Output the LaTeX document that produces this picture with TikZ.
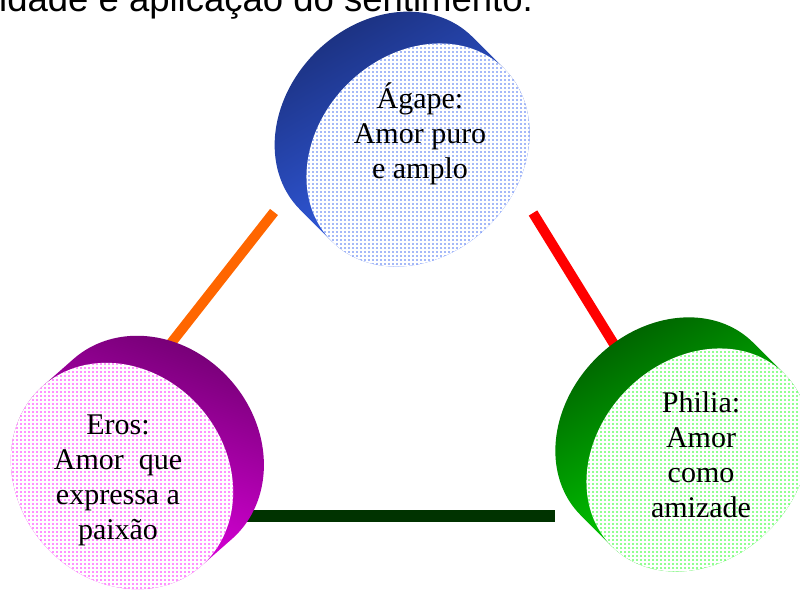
\documentclass[tikz,border=0pt]{standalone}
\usepackage{fontspec}
\setmainfont{Liberation Serif}
\newfontfamily\titlefont{Liberation Sans}
\usetikzlibrary{patterns}
\pgfdeclarepatternformonly{fdots}{\pgfqpoint{-1pt}{-1pt}}{\pgfqpoint{3pt}{3pt}}{\pgfqpoint{4pt}{4pt}}{\pgfpathcircle{\pgfqpoint{1pt}{1pt}}{0.95pt}\pgfusepath{fill}}
\definecolor{agdark}{HTML}{1C3282}
\definecolor{aglight}{HTML}{3868FF}
\definecolor{agdot}{HTML}{4A72F2}
\definecolor{erdark}{HTML}{780078}
\definecolor{erlight}{HTML}{F000F0}
\definecolor{erdot}{HTML}{FF22FF}
\definecolor{phdark}{HTML}{006400}
\definecolor{phlight}{HTML}{00F000}
\definecolor{phdot}{HTML}{22FF22}
\definecolor{lnorange}{HTML}{FF6600}
\definecolor{lnred}{HTML}{FF0000}
\definecolor{lngreen}{HTML}{003300}
\tikzset{
  label text/.style={align=center, font=\fontsize{30}{35}\selectfont, inner sep=0pt},
  bar/.style={line width=10pt},
}
\begin{document}
\begin{tikzpicture}[x=1pt,y=-1pt]
\useasboundingbox (0,0) rectangle (800,589);
\clip (0,0) rectangle (800,589);
% title (cut at top)
\node[anchor=base west, inner sep=0pt, font=\titlefont\fontsize{36.5}{40}\selectfont] (title) at (-1,12) {idade e aplicação do sentimento.};
% connectors
\coordinate (oA) at (274,212); \coordinate (oE) at (150,370);
\coordinate (rA) at (533,213); \coordinate (rP) at (625,362);
\coordinate (gE) at (200,516); \coordinate (gP) at (555,516);
\draw[bar, lnorange] (oA) -- (oE);
\draw[bar, lnred] (rA) -- (rP);
\draw[bar, line width=12pt, lngreen] (gE) -- (gP);
% Agape cylinder
\begin{scope}[shift={(418,155)}, x={(0.7071pt,0.7071pt)}, y={(0.7071pt,-0.7071pt)}]
  \shade[top color=agdark, bottom color=aglight, shading angle=30]
    plot[domain=180:360,samples=100] ({122*cos(\x)},{-45+100*sin(\x)})
    -- plot[domain=0:180,samples=100] ({122*cos(\x)},{100*sin(\x)}) -- cycle;
  \fill[white] plot[domain=0:360,samples=160] ({122*cos(\x)},{100*sin(\x)}) -- cycle;
  \fill[pattern=fdots, pattern color=agdot] plot[domain=0:360,samples=160] ({122*cos(\x)},{100*sin(\x)}) -- cycle;
\end{scope}
% Eros cylinder
\begin{scope}[shift={(122,476)}, x={(0.66pt,-0.75pt)}, y={(-0.75pt,-0.66pt)}]
  \shade[top color=erdark, bottom color=erlight, shading angle=-20]
    plot[domain=180:360,samples=100] ({120*cos(\x)},{-41+104*sin(\x)})
    -- plot[domain=0:180,samples=100] ({120*cos(\x)},{104*sin(\x)}) -- cycle;
  \fill[white] plot[domain=0:360,samples=160] ({120*cos(\x)},{104*sin(\x)}) -- cycle;
  \fill[pattern=fdots, pattern color=erdot] plot[domain=0:360,samples=160] ({120*cos(\x)},{104*sin(\x)}) -- cycle;
\end{scope}
% Philia cylinder
\begin{scope}[shift={(698,460)}, x={(0.7071pt,0.7071pt)}, y={(0.7071pt,-0.7071pt)}]
  \shade[top color=phdark, bottom color=phlight, shading angle=30]
    plot[domain=180:360,samples=100] ({122*cos(\x)},{-44+100*sin(\x)})
    -- plot[domain=0:180,samples=100] ({122*cos(\x)},{100*sin(\x)}) -- cycle;
  \fill[white] plot[domain=0:360,samples=160] ({122*cos(\x)},{100*sin(\x)}) -- cycle;
  \fill[pattern=fdots, pattern color=phdot] plot[domain=0:360,samples=160] ({122*cos(\x)},{100*sin(\x)}) -- cycle;
\end{scope}
% labels
\node[label text] (agape) at (420,134) {Ágape:\\Amor puro\\e amplo};
\node[label text] (eros) at (118,480) {Eros:\\Amor\ \ que\\expressa a\\paixão};
\node[label text] (philia) at (701,455) {Philia:\\Amor\\como\\amizade};
\end{tikzpicture}
\end{document}
